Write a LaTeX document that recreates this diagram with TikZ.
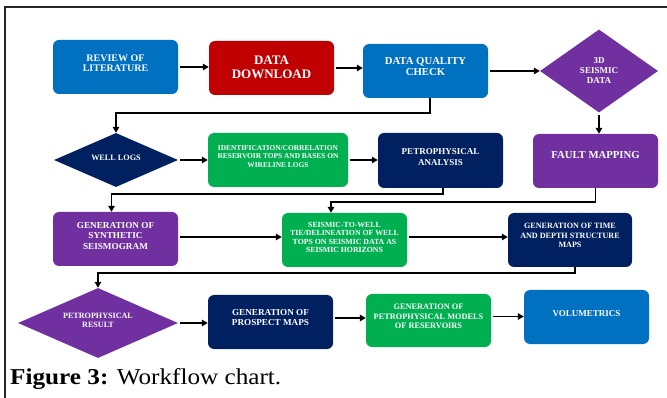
\documentclass[tikz,border=0pt]{standalone}
\usepackage{fontspec}
\setmainfont{Liberation Serif}
\usetikzlibrary{shapes.geometric,arrows.meta}
\definecolor{cblue}{HTML}{0070C0}
\definecolor{cred}{HTML}{C00000}
\definecolor{cpurple}{HTML}{7030A0}
\definecolor{cnavy}{HTML}{002060}
\definecolor{cgreen}{HTML}{00B050}
\newcommand{\fs}[2]{\fontsize{#1pt}{#2pt}\selectfont\bfseries}
\tikzset{
  box/.style={rectangle, rounded corners=6pt, minimum width=125pt, minimum height=54pt, inner sep=0pt},
  dia/.style={diamond, inner sep=0pt},
  lbl/.style={text=white, align=center, inner sep=0pt},
  arr/.style={line width=1.8pt, -{Triangle[length=6pt,width=6.5pt]}, shorten <=2pt},
  frame/.style={line width=1.4pt, draw=black!85}
}
\begin{document}
\begin{tikzpicture}[x=1pt,y=-1pt]
\useasboundingbox (0,0) rectangle (667,398);
\draw[frame] (5,398) -- (5,7) -- (667,7);

% row 1
\node[box, fill=cblue, label={[lbl, font=\fs{10}{10.5}, yshift=4pt]center:{REVIEW OF\\LITERATURE}}] (rev) at (115.5,67) {};
\node[box, fill=cred, label={[lbl, font=\fs{13}{14}, yshift=0.5pt]center:{DATA\\DOWNLOAD}}] (dd) at (271.5,68) {};
\node[box, fill=cblue, label={[lbl, font=\fs{10.7}{11}, yshift=4pt]center:{DATA QUALITY\\CHECK}}] (dqc) at (425.5,71) {};
\node[dia, fill=cpurple, minimum width=118pt, minimum height=83pt, label={[lbl, font=\fs{9}{10}]center:{3D\\SEISMIC\\DATA}}] (sd) at (599,71) {};

% row 2
\node[dia, fill=cnavy, minimum width=124pt, minimum height=54pt, label={[lbl, font=\fs{8.2}{9}, yshift=2.5pt]center:{WELL LOGS}}] (wl) at (116,160) {};
\node[box, fill=cgreen, minimum width=140pt, label={[lbl, font=\fs{7.4}{8.5}, yshift=3.5pt]center:{IDENTIFICATION/CORRELATION\\RESERVOIR TOPS AND BASES ON\\WIRELINE LOGS}}] (idc) at (278,160) {};
\node[box, fill=cnavy, minimum height=55pt, label={[lbl, font=\fs{9}{10.5}, yshift=3.5pt]center:{PETROPHYSICAL\\ANALYSIS}}] (pa) at (440.5,160.5) {};
\node[box, fill=cpurple, label={[lbl, font=\fs{10.7}{11}, yshift=6pt]center:{FAULT MAPPING}}] (fm) at (595.5,161) {};

% row 3
\node[box, fill=cpurple, label={[lbl, font=\fs{9.2}{10.5}, yshift=3.5pt]center:{GENERATION OF\\SYNTHETIC\\SEISMOGRAM}}] (syn) at (115.5,239) {};
\node[box, fill=cgreen, label={[lbl, font=\fs{7.8}{8.6}, yshift=2.5pt]center:{SEISMIC-TO-WELL\\TIE/DELINEATION OF WELL\\TOPS ON SEISMIC DATA AS\\SEISMIC HORIZONS}}] (stw) at (344.5,240) {};
\node[box, fill=cnavy, minimum width=124pt, label={[lbl, font=\fs{8.1}{9.2}, yshift=4.5pt]center:{GENERATION OF TIME\\AND DEPTH STRUCTURE\\MAPS}}] (tdm) at (570,240) {};

% row 4
\node[dia, fill=cpurple, minimum width=160pt, minimum height=70pt, label={[lbl, font=\fs{8.1}{9.3}, yshift=2.7pt]center:{PETROPHYSICAL\\RESULT}}] (prr) at (98,323) {};
\node[box, fill=cnavy, label={[lbl, font=\fs{9.15}{10}, yshift=4.5pt]center:{GENERATION OF\\PROSPECT MAPS}}] (pm) at (270.5,322) {};
\node[box, fill=cgreen, minimum height=53pt, label={[lbl, font=\fs{8.3}{9.3}, yshift=4pt]center:{GENERATION OF\\PETROPHYSICAL MODELS\\OF RESERVOIRS}}] (pmod) at (428.5,320.5) {};
\node[box, fill=cblue, label={[lbl, font=\fs{9}{10}, yshift=3pt]center:{VOLUMETRICS}}] (vol) at (586.5,317) {};

% connectors
\draw[arr] (rev.east) -- (rev.east -| dd.west);
\draw[arr] (dd.east) -- (dd.east -| dqc.west);
\draw[arr] (dqc.east) -- (sd.west);
\draw[arr] (sd.south) -- (sd.south |- fm.north);
\draw[arr, shorten <=0pt] ([xshift=4.5pt]dqc.south) -- ++(0,15) -| (wl.north);
\draw[arr] (wl.east) -- (wl.east -| idc.west);
\draw[arr] (idc.east) -- (idc.east -| pa.west);
\draw[arr, shorten <=0pt] ([xshift=2.5pt]pa.south) -- ++(0,6) -| ([xshift=-4pt]syn.north);
\draw[arr, shorten <=0pt] (fm.south) -- ++(0,14) -| ([xshift=-13.5pt]stw.north);
\draw[arr] ([yshift=2pt]syn.east) -- ([yshift=2pt]syn.east -| stw.west);
\draw[arr] ([yshift=3pt]stw.east) -- ([yshift=3pt]stw.east -| tdm.west);
\draw[arr, shorten <=0pt] ([xshift=5pt]tdm.south) -- ++(0,5.5) -| (prr.north);
\draw[arr] (prr.east) -- (prr.east -| pm.west);
\draw[arr] ([yshift=4pt]pm.east) -- ([yshift=4pt]pm.east -| pmod.west);
\draw[arr] ([yshift=4pt]pmod.east) -- ([yshift=4pt]pmod.east -| vol.west);

% caption
\node[anchor=base west, inner sep=0pt, font=\fontsize{22.7pt}{24pt}\selectfont] (cap) at (10,384.5) {\scalebox{1.11}[1]{\textbf{Figure 3:} Workflow chart.}};
\end{tikzpicture}
\end{document}
